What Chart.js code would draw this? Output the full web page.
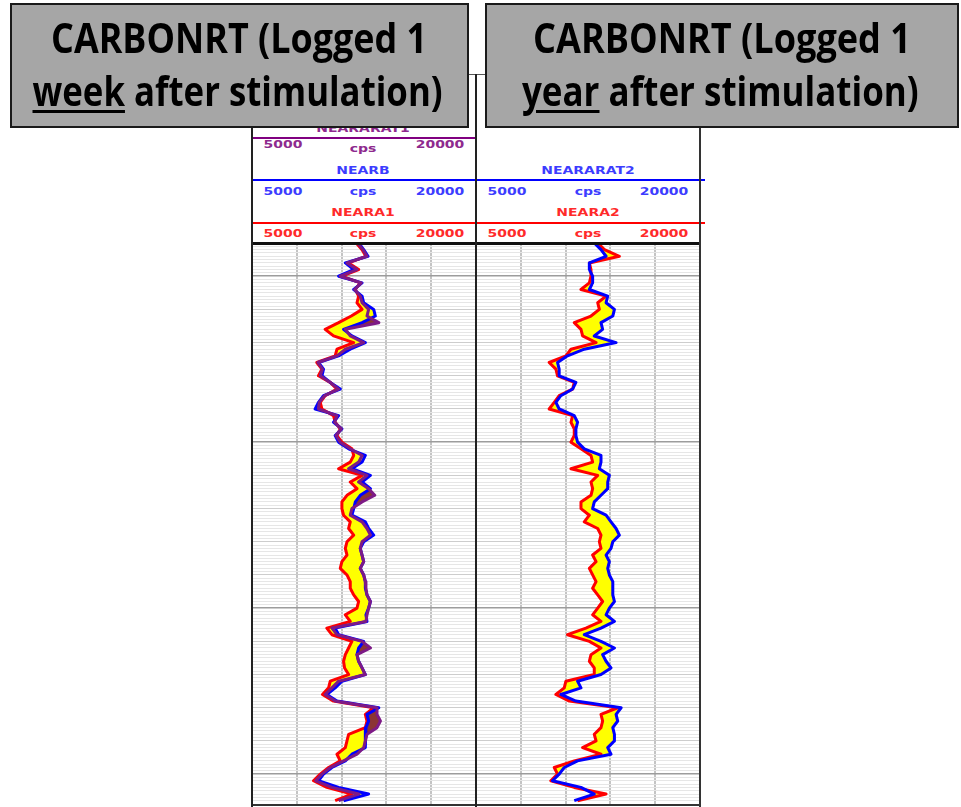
<!DOCTYPE html>
<html><head><meta charset="utf-8">
<script src="https://cdn.jsdelivr.net/npm/chart.js@4.4.1/dist/chart.umd.min.js"></script>
<style>
html,body{margin:0;padding:0;background:#fff;width:961px;height:807px;overflow:hidden;}
#root{position:relative;width:961px;height:807px;background:#fff;overflow:hidden;}
canvas{position:absolute;z-index:1;}
.hl,.vl{position:absolute;z-index:3;}
.t{position:absolute;z-index:2;font-family:"DejaVu Sans",Verdana,sans-serif;font-weight:bold;font-size:11px;line-height:1;white-space:nowrap;transform:translate(-50%,-50%) scaleX(1.27);}
.box{position:absolute;z-index:5;background:#a6a6a6;border:2px solid #1a1a1a;box-sizing:border-box;}
.tl{position:absolute;z-index:6;width:800px;text-align:center;font-family:"Open Sans",sans-serif;font-weight:bold;font-size:42px;line-height:1;color:#000;white-space:nowrap;}
.tl span{display:inline-block;transform-origin:50% 50%;}
.tl u{text-decoration:underline;text-decoration-thickness:3px;text-underline-offset:4px;}
</style></head>
<body><div id="root">
  <canvas id="c1" width="224" height="563" style="left:252px;top:243px;width:224px;height:563px"></canvas>
  <canvas id="c2" width="224" height="563" style="left:476px;top:243px;width:224px;height:563px"></canvas>

  <!-- title boxes -->
  <div class="box" style="left:10px;top:3px;width:459px;height:125px"></div>
  <div class="box" style="left:485px;top:3px;width:474px;height:125px"></div>
  <div class="tl" style="left:-161px;top:16px"><span data-w="376">CARBONRT (Logged 1</span></div>
  <div class="tl" style="left:-162px;top:69px"><span data-w="410"><u>week</u> after stimulation)</span></div>
  <div class="tl" style="left:322px;top:16px"><span data-w="378">CARBONRT (Logged 1</span></div>
  <div class="tl" style="left:320px;top:69px"><span data-w="397"><u>year</u> after stimulation)</span></div>

  <!-- header texts -->
  <div class="t" style="left:363px;top:128px;color:#8e2a8e">NEARARAT1</div>
  <div class="t" style="left:283px;top:144px;color:#8e2a8e">5000</div>
  <div class="t" style="left:363px;top:148px;color:#8e2a8e">cps</div>
  <div class="t" style="left:440px;top:144px;color:#8e2a8e">20000</div>

  <div class="t" style="left:363px;top:170px;color:#3c3cff">NEARB</div>
  <div class="t" style="left:283px;top:191px;color:#3c3cff">5000</div>
  <div class="t" style="left:363px;top:191px;color:#3c3cff">cps</div>
  <div class="t" style="left:440px;top:191px;color:#3c3cff">20000</div>

  <div class="t" style="left:363px;top:212px;color:#ff2a2a">NEARA1</div>
  <div class="t" style="left:283px;top:233px;color:#ff2a2a">5000</div>
  <div class="t" style="left:363px;top:233px;color:#ff2a2a">cps</div>
  <div class="t" style="left:440px;top:233px;color:#ff2a2a">20000</div>

  <div class="t" style="left:588px;top:170px;color:#3c3cff">NEARARAT2</div>
  <div class="t" style="left:507px;top:191px;color:#3c3cff">5000</div>
  <div class="t" style="left:588px;top:191px;color:#3c3cff">cps</div>
  <div class="t" style="left:664px;top:191px;color:#3c3cff">20000</div>

  <div class="t" style="left:588px;top:212px;color:#ff2a2a">NEARA2</div>
  <div class="t" style="left:507px;top:233px;color:#ff2a2a">5000</div>
  <div class="t" style="left:588px;top:233px;color:#ff2a2a">cps</div>
  <div class="t" style="left:664px;top:233px;color:#ff2a2a">20000</div>

  <!-- header / frame lines -->
  <div class="hl" style="left:252px;top:137px;width:224px;height:2px;background:#800080"></div>
  <div class="hl" style="left:252px;top:179px;width:453px;height:2px;background:#0000ff"></div>
  <div class="hl" style="left:252px;top:222px;width:453px;height:2px;background:#ff0000"></div>
  <div class="hl" style="left:252px;top:242px;width:449px;height:3px;background:#111"></div>
  <div class="hl" style="left:252px;top:804px;width:449px;height:2px;background:#333"></div>
  <div class="hl" style="left:468px;top:74px;width:17px;height:1px;background:#555"></div>
  <div class="vl" style="left:251px;top:127px;width:2px;height:680px;background:#222"></div>
  <div class="vl" style="left:475px;top:74px;width:2px;height:733px;background:#222"></div>
  <div class="vl" style="left:699px;top:127px;width:2px;height:680px;background:#333"></div>
</div>
<script>
// depth (ft) of each sample
const depthFt = [5040,5042,5044,5046,5048,5050,5052,5054,5056,5058,5060,5062,5064,5066,5068,5070,5072,5074,5076,5078,5080,5082,5084,5086,5088,5090,5092,5094,5096,5098,5100,5102,5104,5106,5108,5110,5112,5114,5116,5118,5120,5122,5124,5126,5128,5130,5132,5134,5136,5138,5140,5142,5144,5146,5148,5150,5152,5154,5156,5158,5160,5162,5164,5166,5168,5170,5172,5174,5176,5178,5180,5182,5184,5186,5188,5190,5192,5194,5196,5198,5200,5202,5204,5206,5208];

// Track 1 (1 week after stimulation), cps
const nearA1 = [11980,12370,12630,11470,12140,11020,12250,11920,12140,12030,12370,11650,10800,9900,10460,11810,10690,10570,9340,9680,9450,10240,10690,9900,9570,9680,10460,10570,10910,10690,11020,11690,11810,11580,10800,12370,11580,12030,11360,11020,11020,11130,11580,11470,11810,11360,11250,11360,11020,10910,11360,11580,11580,11810,12140,12030,11250,11580,10010,10350,11690,11470,11250,11130,11200,11470,10240,10130,9720,10460,13150,12590,12700,12590,11470,11360,11250,10690,10910,10130,9570,9120,10010,11690,10570];
const nearB = [12140,12480,12770,11250,11810,10800,12370,11810,12370,12480,13150,13260,12370,11130,11690,12590,11580,10800,9450,9790,9680,10240,10910,9790,9450,9230,10800,10460,11020,10570,10800,11470,12590,12370,11690,12930,12370,12930,12250,11920,11810,11690,12590,12810,13150,12480,12250,12370,12480,12250,12480,12590,12590,12700,12930,12810,12630,12700,10570,10800,12480,12140,12030,12140,12370,12590,11020,10570,10010,10690,13490,12700,12810,12630,12590,12590,12590,11690,11250,10350,9790,9450,10800,12810,11130];
const nearArat1 = [12070,12430,12700,11360,12030,10910,12320,11870,12250,12370,12810,12700,13490,11250,11580,12480,11250,10690,9410,9720,9570,10240,10800,9860,9500,9450,10690,10530,10980,10620,10910,11580,12370,12140,11470,12700,12140,12810,13220,12370,11690,11580,12370,12700,12930,12370,12250,12370,12480,12250,12480,12590,12630,12700,12930,12810,12700,12630,10350,10690,12370,12930,12030,12140,12370,12590,10800,10350,9900,10570,13370,13370,13600,13370,12700,12590,12480,12030,11130,10240,9680,9270,10350,12140,10800];

// Track 2 (1 year after stimulation), cps
const nearA2 = [13150,13600,14600,12590,12700,12700,12590,12030,13710,13150,13260,12700,11580,12030,12140,13040,11360,11020,9900,10350,10460,11580,11470,10570,10240,9900,11470,11360,11580,11580,11360,12030,12700,12810,11360,13150,12700,12810,12700,12030,12030,12590,12250,13150,13370,13260,13370,12810,13040,12590,12810,13040,12810,13150,13480,13150,12810,13370,12360,11130,12590,13370,12700,12590,12920,12920,11020,10910,10350,11250,14490,13370,13480,13370,12920,13040,12140,13370,11580,10240,10460,10010,11580,13710,11800];
const nearArat2 = [12920,13370,13710,12590,12590,12810,12810,12590,13820,13710,14270,14160,13370,13480,12920,14380,12250,11130,10460,10570,10570,11690,11470,10680,10350,10570,11580,11800,11690,11690,11800,12250,13370,13370,13260,13930,13820,13820,13370,12920,12810,13710,14040,14380,14600,14160,14040,13710,13930,13820,13930,14160,14160,14160,14270,13930,13710,14270,13370,12250,13370,14270,13480,13710,14040,13370,11800,12030,10680,11690,14720,14380,14490,14160,14270,14270,13820,14040,11800,10910,10570,10120,12030,12920,11580];

// scale of both tracks (cps)
const scaleLeft = 5000, scaleRight = 20000, gridStepCps = 3000;

const RED = '#ff0000', BLUE = '#0000ff', PURPLE = '#7d1a86', YELLOW = '#ffff00', BROWN = '#8b3434';
const pts = arr => depthFt.map((d, i) => ({x: arr[i], y: d}));

function yGridColor(c) {
  const v = Math.round(c.tick.value);
  if (v % 50 === 0) return '#9c9c9c';
  if (v % 10 === 0) return '#cdcdcd';
  return '#e6e6e6';
}
function yGridWidth(c) {
  const v = Math.round(c.tick.value);
  return v % 50 === 0 ? 1.5 : 1;
}

function makeOptions() {
  return {
    indexAxis: 'y',
    responsive: false,
    animation: false,
    layout: {padding: 0},
    plugins: {legend: {display: false}, tooltip: {enabled: false}, filler: {drawTime: 'beforeDatasetDraw'}},
    elements: {point: {radius: 0, hoverRadius: 0}, line: {tension: 0, borderWidth: 3, borderJoinStyle: 'round'}},
    scales: {
      x: {type: 'linear', position: 'top', min: scaleLeft, max: scaleRight,
          ticks: {display: false, stepSize: gridStepCps},
          grid: {drawTicks: false, color: c => (c.tick.value === scaleLeft || c.tick.value === scaleRight) ? 'rgba(0,0,0,0)' : '#c4c4c4', lineWidth: 2},
          border: {display: false}},
      y: {type: 'linear', min: 5040, max: 5209.6, reverse: true,
          ticks: {display: false, stepSize: 1},
          grid: {drawTicks: false, color: yGridColor, lineWidth: yGridWidth},
          border: {display: false}}
    }
  };
}

new Chart(document.getElementById('c1'), {
  type: 'line',
  data: {datasets: [
    {label: 'NEARARAT1 fill', data: pts(nearArat1), borderWidth: 0, backgroundColor: BROWN, fill: 2, order: 6},
    {label: 'NEARA1 fill', data: pts(nearA1), borderWidth: 0, backgroundColor: YELLOW, fill: 2, order: 5},
    {label: 'NEARB', data: pts(nearB), borderColor: BLUE, fill: false, order: 3},
    {label: 'NEARA1', data: pts(nearA1), borderColor: RED, fill: false, order: 4},
    {label: 'NEARARAT1', data: pts(nearArat1), borderColor: PURPLE, fill: false, order: 1}
  ]},
  options: makeOptions()
});

new Chart(document.getElementById('c2'), {
  type: 'line',
  data: {datasets: [
    {label: 'NEARA2 fill', data: pts(nearA2), borderWidth: 0, backgroundColor: YELLOW, fill: 1, order: 5},
    {label: 'NEARARAT2', data: pts(nearArat2), borderColor: BLUE, fill: false, order: 2},
    {label: 'NEARA2', data: pts(nearA2), borderColor: RED, fill: false, order: 3}
  ]},
  options: makeOptions()
});

function fitTitles() {
  document.querySelectorAll('.tl span').forEach(s => {
    const target = +s.dataset.w;
    const w = s.offsetWidth;
    if (w > 0) s.style.transform = 'scaleX(' + (target / w).toFixed(4) + ')';
  });
}
fitTitles();
if (document.fonts && document.fonts.ready) document.fonts.ready.then(fitTitles);
</script>
</body></html>
